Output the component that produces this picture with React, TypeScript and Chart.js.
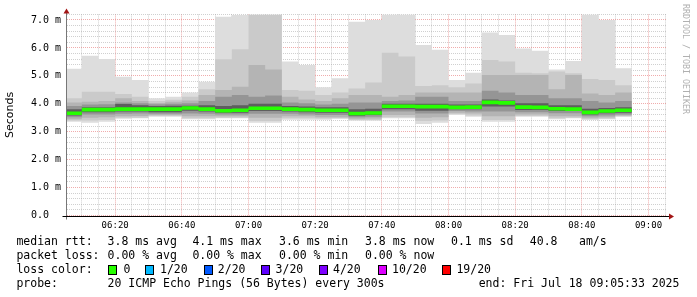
import React, { useEffect, useRef } from 'react';
import { Chart, registerables } from 'chart.js';

Chart.register(...registerables);

// ---- time frame ----
const GRAPH_START = '06:05:33';
const GRAPH_END = '09:05:33';
// end of each 300 s step (rrd bins); the first bin is cut by the graph start
const BIN_ENDS = [
  '06:10', '06:15', '06:20', '06:25', '06:30', '06:35', '06:40', '06:45', '06:50', '06:55',
  '07:00', '07:05', '07:10', '07:15', '07:20', '07:25', '07:30', '07:35', '07:40', '07:45',
  '07:50', '07:55', '08:00', '08:05', '08:10', '08:15', '08:20', '08:25', '08:30', '08:35',
  '08:40', '08:45', '08:50', '08:55',
];
const X_TICK_LABELS = ['06:20', '06:40', '07:00', '07:20', '07:40', '08:00', '08:20', '08:40', '09:00'];
const Y_TICK_LABELS = ['0.0  ', '1.0 m', '2.0 m', '3.0 m', '4.0 m', '5.0 m', '6.0 m', '7.0 m'];

// ---- smoke (ms), sorted ping ranks: outermost pair -> inner pairs ----
const maxPing = [5.25, 5.72, 5.60, 4.97, 4.85, 4.20, 4.25, 4.40, 4.79, 7.12, 7.19, 8.40, 8.40, 5.51, 5.39, 4.59, 4.91, 6.94, 7.00, 8.40, 8.40, 6.10, 5.93, 4.85, 5.11, 6.55, 6.46, 5.98, 5.90, 5.23, 5.53, 8.40, 7.00, 5.27];
const hi2 = [4.20, 4.43, 4.43, 4.35, 4.25, 4.10, 4.14, 4.25, 4.52, 5.59, 5.95, 7.60, 7.50, 4.49, 4.47, 4.31, 4.40, 4.55, 4.76, 5.83, 5.69, 4.64, 4.66, 4.59, 4.73, 5.57, 5.51, 5.11, 5.09, 5.16, 5.09, 4.89, 4.85, 4.66];
const hi3 = [4.05, 4.07, 4.10, 4.20, 4.10, 4.03, 4.07, 4.12, 4.31, 4.49, 4.61, 5.39, 5.23, 4.25, 4.15, 4.10, 4.20, 4.31, 4.31, 4.25, 4.31, 4.40, 4.40, 4.40, 4.40, 5.03, 5.03, 5.03, 5.03, 4.52, 5.03, 4.37, 4.31, 4.40];
const hi4 = [3.92, 3.97, 3.98, 4.05, 4.02, 3.98, 4.00, 4.02, 4.10, 4.25, 4.31, 4.25, 4.30, 4.05, 4.02, 3.97, 4.00, 4.05, 4.05, 4.10, 4.12, 4.25, 4.25, 4.10, 4.10, 4.47, 4.40, 4.31, 4.31, 4.20, 4.20, 4.10, 4.05, 4.10];
const hi5 = [3.80, 3.88, 3.88, 3.99, 3.95, 3.92, 3.93, 3.93, 3.95, 3.92, 3.95, 4.00, 4.00, 3.92, 3.90, 3.88, 3.88, 3.80, 3.82, 4.00, 4.00, 4.00, 4.00, 3.97, 3.97, 4.15, 4.12, 4.02, 4.02, 3.95, 3.95, 3.82, 3.85, 3.88];
const medianRtt = [3.66, 3.79, 3.79, 3.81, 3.81, 3.81, 3.81, 3.85, 3.81, 3.75, 3.77, 3.84, 3.84, 3.81, 3.79, 3.77, 3.77, 3.65, 3.67, 3.91, 3.91, 3.90, 3.90, 3.87, 3.88, 4.05, 4.03, 3.88, 3.87, 3.82, 3.81, 3.69, 3.74, 3.77];
const lo5 = [3.58, 3.70, 3.70, 3.72, 3.72, 3.70, 3.70, 3.75, 3.72, 3.68, 3.68, 3.74, 3.74, 3.72, 3.70, 3.68, 3.68, 3.57, 3.60, 3.80, 3.80, 3.75, 3.75, 3.80, 3.80, 3.90, 3.90, 3.78, 3.78, 3.74, 3.74, 3.62, 3.66, 3.68];
const lo4 = [3.52, 3.62, 3.62, 3.64, 3.65, 3.64, 3.64, 3.65, 3.64, 3.62, 3.62, 3.64, 3.64, 3.64, 3.62, 3.60, 3.60, 3.52, 3.54, 3.72, 3.72, 3.65, 3.65, 3.74, 3.72, 3.72, 3.72, 3.70, 3.70, 3.66, 3.66, 3.55, 3.58, 3.62];
const lo3 = [3.45, 3.50, 3.52, 3.55, 3.56, 3.60, 3.60, 3.55, 3.55, 3.55, 3.55, 3.50, 3.50, 3.55, 3.55, 3.52, 3.52, 3.46, 3.47, 3.60, 3.60, 3.50, 3.52, 3.68, 3.65, 3.55, 3.55, 3.62, 3.62, 3.55, 3.55, 3.50, 3.52, 3.58];
const lo2 = [3.40, 3.40, 3.42, 3.50, 3.50, 3.56, 3.56, 3.48, 3.48, 3.50, 3.50, 3.38, 3.38, 3.48, 3.48, 3.47, 3.48, 3.42, 3.42, 3.52, 3.52, 3.38, 3.40, 3.63, 3.58, 3.42, 3.42, 3.56, 3.56, 3.48, 3.50, 3.45, 3.47, 3.55];
const minPing = [3.36, 3.32, 3.36, 3.46, 3.48, 3.54, 3.54, 3.45, 3.45, 3.48, 3.48, 3.32, 3.32, 3.43, 3.43, 3.43, 3.46, 3.39, 3.39, 3.48, 3.48, 3.28, 3.32, 3.60, 3.54, 3.36, 3.36, 3.54, 3.54, 3.45, 3.48, 3.43, 3.45, 3.54];

// ---- legend text ----
const RTT_STATS = ['3.8 ms avg', '4.1 ms max', '3.6 ms min', '3.8 ms now', '0.1 ms sd', '40.8', 'am/s'];
const LOSS_STATS = ['0.00 % avg', '0.00 % max', '0.00 % min', '0.00 % now'];
const LOSS_LABELS = ['0', '1/20', '2/20', '3/20', '4/20', '10/20', '19/20'];
const LOSS_COLORS = ['#26ff00', '#00b8ff', '#0059ff', '#5e00ff', '#7e00ff', '#dd00ff', '#ff0000'];
const PROBE_TEXT = '20 ICMP Echo Pings (56 Bytes) every 300s';
const END_TEXT = 'end: Fri Jul 18 09:05:33 2025';

// ---- styles ----
const SMOKE_COLORS = ['#dddddd', '#cacaca', '#b4b4b4', '#959595', '#5e5e5e'];
const MEDIAN_HALF = 0.065; // half thickness of the median band (ms)
const MONO = "'DejaVu Sans Mono', monospace";
const GRID_MINOR = 'rgba(150,150,150,0.45)';
const GRID_MAJOR = 'rgba(225,90,90,0.5)';

function toMin(s: string): number {
  const p = s.split(':').map(Number);
  return p[0] * 60 + p[1] + (p[2] || 0) / 60;
}
const T0 = toMin(GRAPH_START);
const SPAN = toMin(GRAPH_END) - T0;
const toX = (s: string) => toMin(s) - T0;
function clockLabel(v: number): string {
  const m = Math.round(T0 + v);
  const h = Math.floor(m / 60);
  const mm = m % 60;
  return `${String(h).padStart(2, '0')}:${String(mm).padStart(2, '0')}`;
}

function stepPoints(values: number[]) {
  const pts = values.map((v, i) => ({ x: toX(i === 0 ? GRAPH_START : BIN_ENDS[i - 1]), y: v }));
  pts.push({ x: toX(BIN_ENDS[BIN_ENDS.length - 1]), y: values[values.length - 1] });
  return pts;
}

const axesPlugin = {
  id: 'rrdAxes',
  afterDraw(chart: any) {
    const { ctx, chartArea: a } = chart;
    const yb = Math.round(a.bottom) + 0.5;
    const xl = Math.round(a.left) - 0.5;
    ctx.save();
    ctx.lineWidth = 1;
    ctx.strokeStyle = '#777';
    ctx.beginPath();
    ctx.moveTo(xl, yb + 3);
    ctx.lineTo(xl, a.top - 2);
    ctx.stroke();
    ctx.strokeStyle = '#000';
    ctx.beginPath();
    ctx.moveTo(xl - 4, yb);
    ctx.lineTo(a.right + 2, yb);
    ctx.stroke();
    ctx.fillStyle = '#a31515';
    ctx.beginPath();
    ctx.moveTo(xl, a.top - 6);
    ctx.lineTo(xl - 3, a.top - 1);
    ctx.lineTo(xl + 3, a.top - 1);
    ctx.closePath();
    ctx.fill();
    ctx.beginPath();
    ctx.moveTo(a.right + 7, yb);
    ctx.lineTo(a.right + 2, yb - 3);
    ctx.lineTo(a.right + 2, yb + 3);
    ctx.closePath();
    ctx.fill();
    ctx.restore();
  },
};

export default function App() {
  const ref = useRef<HTMLCanvasElement | null>(null);

  useEffect(() => {
    if (!ref.current) return;
    const layers = [
      [maxPing, minPing],
      [hi2, lo2],
      [hi3, lo3],
      [hi4, lo4],
      [hi5, lo5],
    ];
    const datasets: any[] = [];
    datasets.push({
      data: stepPoints(medianRtt.map((v) => v + MEDIAN_HALF)),
      stepped: true,
      borderWidth: 0,
      borderColor: 'rgba(0,0,0,0)',
      backgroundColor: LOSS_COLORS[0],
      fill: 1,
      order: 0,
    });
    datasets.push({
      data: stepPoints(medianRtt.map((v) => v - MEDIAN_HALF)),
      stepped: true,
      borderWidth: 0,
      borderColor: 'rgba(0,0,0,0)',
      fill: false,
      order: 0,
    });
    layers.forEach(([top, bottom], L) => {
      const topIdx = datasets.length;
      datasets.push({
        data: stepPoints(top),
        stepped: true,
        borderWidth: 0,
        borderColor: 'rgba(0,0,0,0)',
        backgroundColor: SMOKE_COLORS[L],
        fill: topIdx + 1,
        order: 10 - L,
      });
      datasets.push({
        data: stepPoints(bottom),
        stepped: true,
        borderWidth: 0,
        borderColor: 'rgba(0,0,0,0)',
        fill: false,
        order: 10 - L,
      });
    });

    const gridTicks: number[] = [];
    for (let v = toX('06:10'); v <= SPAN + 1e-6; v += 5) gridTicks.push(v);

    const chart = new Chart(ref.current, {
      type: 'line',
      data: { datasets },
      plugins: [axesPlugin],
      options: {
        animation: false,
        responsive: false,
        devicePixelRatio: 1,
        layout: { padding: { top: 14.4, right: 30, bottom: 0, left: 0 } },
        plugins: { legend: { display: false }, tooltip: { enabled: false } },
        elements: { point: { radius: 0 }, line: { tension: 0 } },
        scales: {
          x: {
            type: 'linear',
            min: 0,
            max: SPAN,
            z: 1,
            afterBuildTicks: (s: any) => {
              s.ticks = gridTicks.map((value) => ({ value }));
            },
            afterFit: (s: any) => {
              s.height = 81.5;
            },
            grid: {
              drawTicks: false,
              lineWidth: 1,
              color: (c: any) =>
                X_TICK_LABELS.includes(clockLabel(c.tick.value)) ? GRID_MAJOR : GRID_MINOR,
            },
            border: { display: false, dash: [1, 1] },
            ticks: {
              autoSkip: false,
              maxRotation: 0,
              padding: 5,
              color: '#000',
              font: { family: MONO, size: 9 },
              callback: (v: any) => {
                const l = clockLabel(Number(v));
                return X_TICK_LABELS.includes(l) ? l : '';
              },
            },
          },
          y: {
            min: 0,
            max: 7.2,
            z: 1,
            afterFit: (s: any) => {
              s.width = 67;
            },
            grid: {
              drawTicks: false,
              lineWidth: 1,
              color: (c: any) =>
                Math.abs(c.tick.value - Math.round(c.tick.value)) < 1e-6 ? GRID_MAJOR : GRID_MINOR,
            },
            border: { display: false, dash: [1, 1] },
            ticks: {
              stepSize: 0.2,
              autoSkip: false,
              padding: 6,
              color: '#000',
              font: { family: MONO, size: 10 },
              callback: (v: any) => {
                const n = Number(v);
                const r = Math.round(n);
                return Math.abs(n - r) < 1e-6 && Y_TICK_LABELS[r] ? Y_TICK_LABELS[r] : '';
              },
            },
            title: {
              display: true,
              text: 'Seconds',
              color: '#000',
              font: { family: "'DejaVu Sans', sans-serif", size: 11 },
              padding: { top: 4, bottom: 0 },
            },
          },
        },
      } as any,
    });
    return () => chart.destroy();
  }, []);

  const txt = (x: number, y: number, s: string, key?: string) => (
    <span
      key={key}
      style={{
        position: 'absolute',
        left: x,
        top: y - 7.3,
        fontFamily: MONO,
        fontSize: '11.5px',
        lineHeight: '14px',
        whiteSpace: 'pre',
        color: '#000',
      }}
    >
      {s}
    </span>
  );

  const rttX = [107.6, 192.4, 279, 365, 451, 529.8, 579];
  const lossX = [107.6, 192.4, 279, 365];
  const boxX = [108, 145.3, 203.6, 261.3, 319, 377.8, 442];
  const boxLabelX = [123.6, 160, 217.8, 275.6, 333, 392, 456.4];

  return (
    <div style={{ position: 'absolute', left: 0, top: 0, width: 697, height: 297, background: '#fff', overflow: 'hidden' }}>
      <canvas ref={ref} width={697} height={297} style={{ display: 'block' }} />
      {txt(16.4, 241.7, 'median rtt:')}
      {RTT_STATS.map((s, i) => txt(rttX[i], 241.7, s, 'r' + i))}
      {txt(16.4, 255.7, 'packet loss:')}
      {LOSS_STATS.map((s, i) => txt(lossX[i], 255.7, s, 'l' + i))}
      {txt(16.4, 269.3, 'loss color:')}
      {LOSS_LABELS.map((s, i) => (
        <React.Fragment key={'c' + i}>
          <span
            style={{
              position: 'absolute',
              left: boxX[i],
              top: 264.5,
              width: 7,
              height: 8,
              border: '1px solid #000',
              background: LOSS_COLORS[i],
            }}
          />
          {txt(boxLabelX[i], 269.3, s)}
        </React.Fragment>
      ))}
      {txt(16.4, 283.3, 'probe:')}
      {txt(107.6, 283.3, PROBE_TEXT)}
      {txt(478.7, 283.3, END_TEXT)}
      <div
        style={{
          position: 'absolute',
          left: 681,
          top: 4,
          writingMode: 'vertical-rl',
          fontFamily: MONO,
          fontSize: '8.3px',
          lineHeight: '10px',
          color: '#b0b0b0',
          whiteSpace: 'pre',
        }}
      >
        RRDTOOL / TOBI OETIKER
      </div>
    </div>
  );
}
